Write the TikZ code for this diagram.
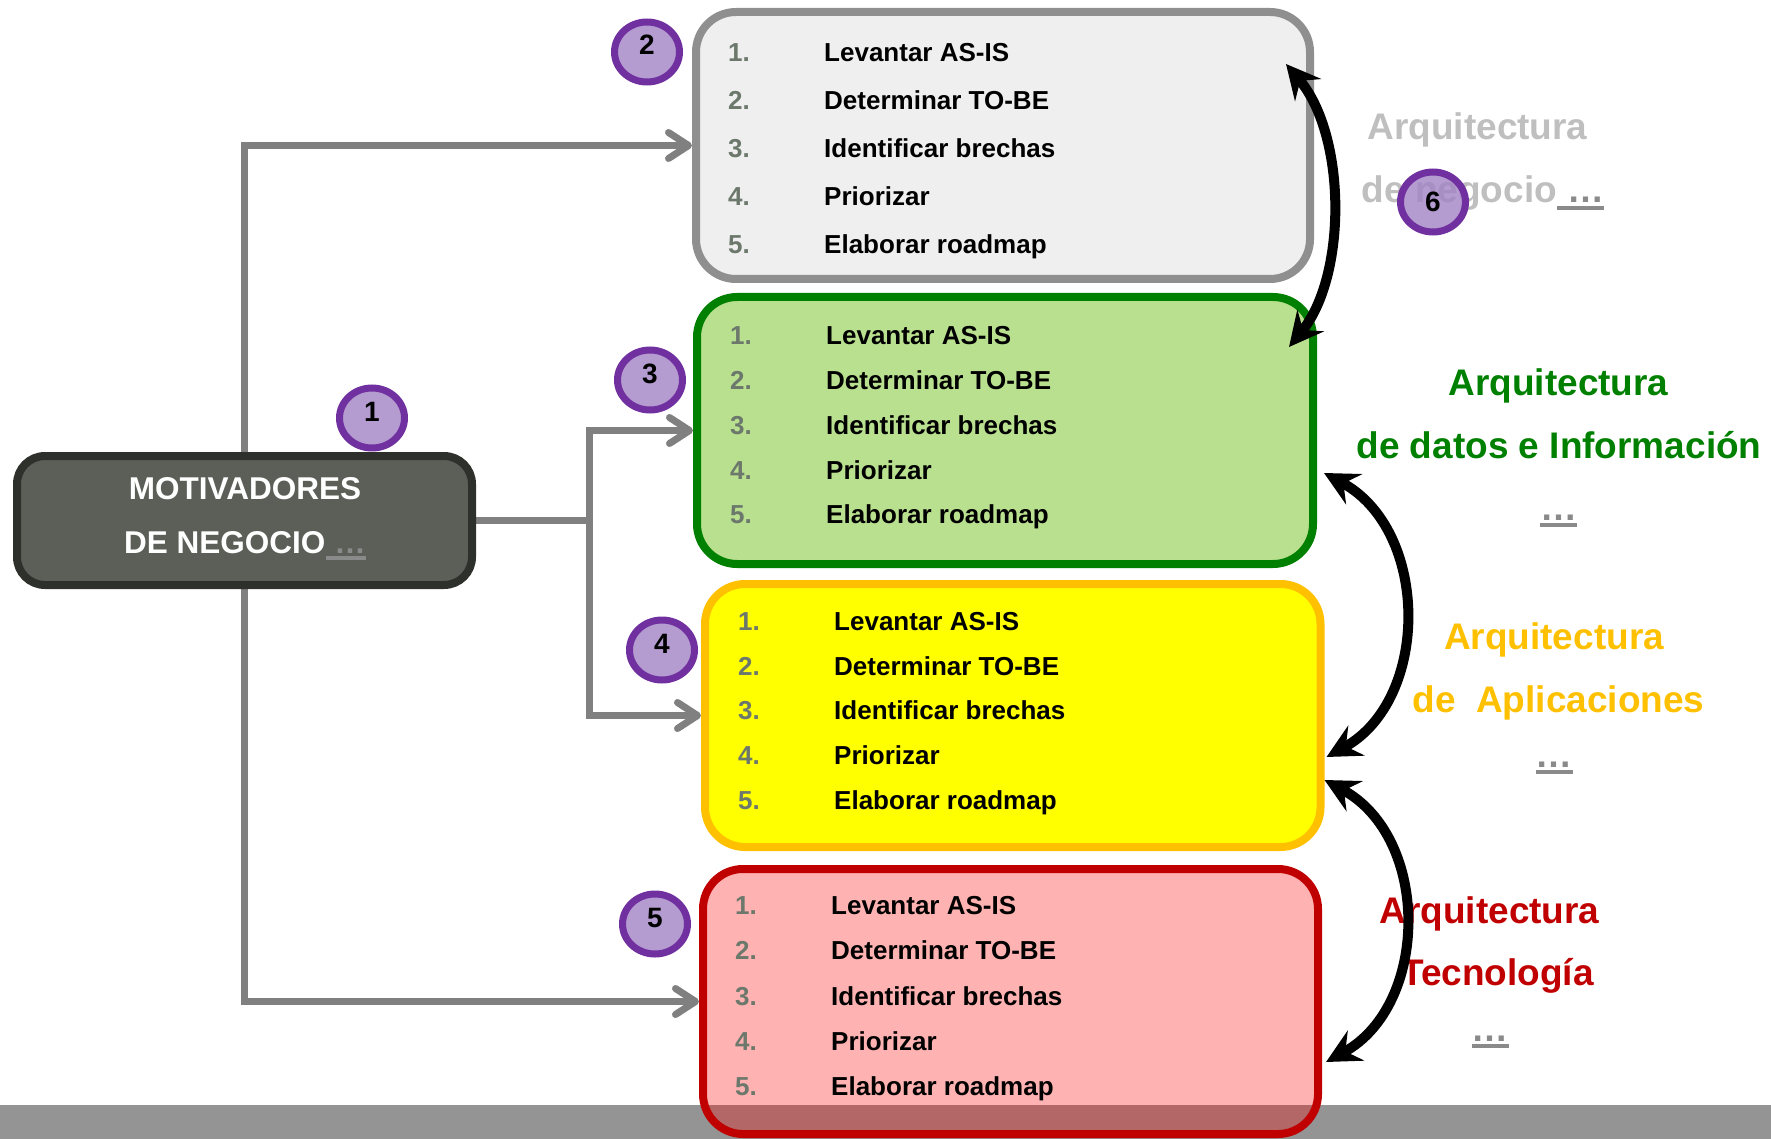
\documentclass[tikz,border=0pt]{standalone}
\usepackage{fontspec}
\setmainfont{Liberation Sans}
\usetikzlibrary{arrows.meta,shapes.geometric,calc,backgrounds}

\definecolor{conngray}{HTML}{808080}
\definecolor{bandgray}{HTML}{949494}
\definecolor{dotgray}{HTML}{8A8A8A}
\definecolor{numgray}{HTML}{6C786C}
\definecolor{motfill}{HTML}{5B5F57}
\definecolor{motborder}{HTML}{2E302C}
\definecolor{bizedge}{HTML}{8F8F8F}
\definecolor{bizfill}{HTML}{EFEFEF}
\definecolor{datedge}{HTML}{008000}
\definecolor{datfill}{HTML}{B9E08F}
\definecolor{appedge}{HTML}{FFC000}
\definecolor{appfill}{HTML}{FFFF00}
\definecolor{tecedge}{HTML}{C00000}
\definecolor{badgeedge}{HTML}{7030A0}
\definecolor{badgefill}{HTML}{A182C4}
\definecolor{biztext}{HTML}{BFBFBF}

% underlined "more" dots, with and without a leading space
\newcommand\linkdots{{\color{dotgray}\setbox0\hbox{…}\rlap{\rule[-7pt]{\wd0}{4pt}}\box0}}
\newcommand\linkdotsSp{{\color{dotgray}\setbox0\hbox{\ …}\rlap{\rule[-7pt]{\wd0}{4pt}}\box0}}

\begin{document}
\begin{tikzpicture}[x=1pt, y=-1pt,
  stepbox/.style={rectangle, rounded corners=40pt, line width=8pt, inner sep=0pt},
  motbox/.style={rectangle, rounded corners=28pt, line width=8pt, draw=motborder, fill=motfill, inner sep=0pt},
  conn/.style={draw=conngray, line width=7pt, >={Straight Barb[length=20pt, width=26pt, round]}},
  link/.style={draw=black, line width=10pt, >={Stealth[length=34pt, width=34pt, inset=12pt]}, <->},
  badge/.style={ellipse, draw=badgeedge, line width=7pt, fill=badgefill, fill opacity=0.8, text opacity=1,
    minimum width=65pt, minimum height=60pt, inner sep=0pt, font=\fontsize{28}{30}\selectfont\bfseries},
  numtxt/.style={anchor=base west, inner sep=0pt, text=numgray, font=\fontsize{26}{30}\selectfont\bfseries},
  itemtxt/.style={anchor=base west, inner sep=0pt, text=black, font=\fontsize{26}{30}\selectfont\bfseries},
  archtxt/.style={anchor=base, inner sep=0pt, font=\fontsize{37}{44}\selectfont\bfseries},
  mottxt/.style={anchor=base, inner sep=0pt, text=white, font=\fontsize{31.5}{36}\selectfont\bfseries}
]
\useasboundingbox (0,0) rectangle (1771,1139);

% main boxes
\node[motbox, minimum width=455pt, minimum height=129pt] (m) at (244.5,520.5) {};
\node[stepbox, draw=bizedge, fill=bizfill, minimum width=614pt, minimum height=267pt] (b2) at (1003,145.5) {};
\node[stepbox, draw=datedge, fill=datfill, minimum width=616pt, minimum height=267pt] (b3) at (1005,430.5) {};
\node[stepbox, draw=appedge, fill=appfill, minimum width=615.5pt, minimum height=263pt] (b4) at (1012.75,715.5) {};
\node[stepbox, draw=tecedge, fill=red, fill opacity=0.3, draw opacity=1, minimum width=615pt, minimum height=265pt] (b5) at (1010.5,1001.5) {};

% footer band and gray connectors, kept behind the boxes
\begin{scope}[on background layer]
  \fill[bandgray] (0,1105) rectangle (1771,1139);
  \draw[conn, <->] (b2.west) -| (m.center) |- (b5.west);
  \draw[conn, ->] (m.east) -- ($(m.east)+(113,0)$) coordinate (j) |- (b3.west);
  \draw[conn, ->] (j) |- (b4.west);
\end{scope}

\node[mottxt] (mt1) at (245,499) {MOTIVADORES};
\node[mottxt] (mt2) at (245,553) {DE NEGOCIO\linkdotsSp};

% step lists
\foreach \b/\nx/\ya/\dy in {2/728/52.5/47.9, 3/730/335/44.9, 4/738/621/44.8, 5/735/905.5/45.1}{
  \foreach \i/\t in {1/Levantar AS-IS, 2/Determinar TO-BE, 3/Identificar brechas, 4/Priorizar, 5/Elaborar roadmap}{
    \node[numtxt] (n\b-\i) at (\nx, {\ya+9.3+(\i-1)*\dy}) {\i.};
    \node[itemtxt] (t\b-\i) at ({\nx+96}, {\ya+9.3+(\i-1)*\dy}) {\t};
  }
}

% architecture labels
\node[archtxt, text=biztext] (la1) at (1477.5,140) {Arquitectura};
\node[archtxt, text=biztext] (la2) at (1483,203) {de negocio\linkdotsSp};
\node[archtxt, text=datedge] (ld1) at (1558.5,395) {Arquitectura};
\node[archtxt, text=datedge] (ld2) at (1559,458) {de datos e Información};
\node[archtxt] (ld3) at (1558.5,520) {\linkdots};
\node[archtxt, text=appedge] (lp1) at (1554,649) {Arquitectura};
\node[archtxt, text=appedge] (lp2) at (1558.5,712) {de~~Aplicaciones};
\node[archtxt] (lp3) at (1554,767) {\linkdots};
\node[archtxt, text=tecedge] (lt1) at (1489.5,923) {Arquitectura};
\node[archtxt, text=tecedge] (lt2) at (1497.5,985) {Tecnología};
\node[archtxt] (lt3) at (1490,1041) {\linkdots};

% numbered badges
\node[badge] (c1) at (372,418) {\raisebox{-3pt}[0pt][0pt]{1}};
\node[badge] (c2) at (647,52) {\raisebox{-3pt}[0pt][0pt]{2}};
\node[badge] (c3) at (650,380) {\raisebox{-3pt}[0pt][0pt]{3}};
\node[badge] (c4) at (662,650) {\raisebox{-3pt}[0pt][0pt]{4}};
\node[badge] (c5) at (655,924) {\raisebox{-3pt}[0pt][0pt]{5}};
\node[badge] (c6) at (1433,202) {\raisebox{-10pt}[0pt][0pt]{6}};

% links between neighbouring layers
\draw[link] ($(b2.north east)+(-28,56)$) .. controls +(61,72) and +(58,-71) .. ($(b3.north east)+(-28,54)$);
\draw[link] ($(b3.east)+(7,42.5)$) .. controls +(106,57) and +(104,-57) .. ($(b4.east)+(2,41.5)$);
\draw[link] ($(b4.east)+(0,64.5)$) .. controls +(106,57) and +(104,-57) .. ($(b5.east)+(4,60.5)$);
\end{tikzpicture}
\end{document}
